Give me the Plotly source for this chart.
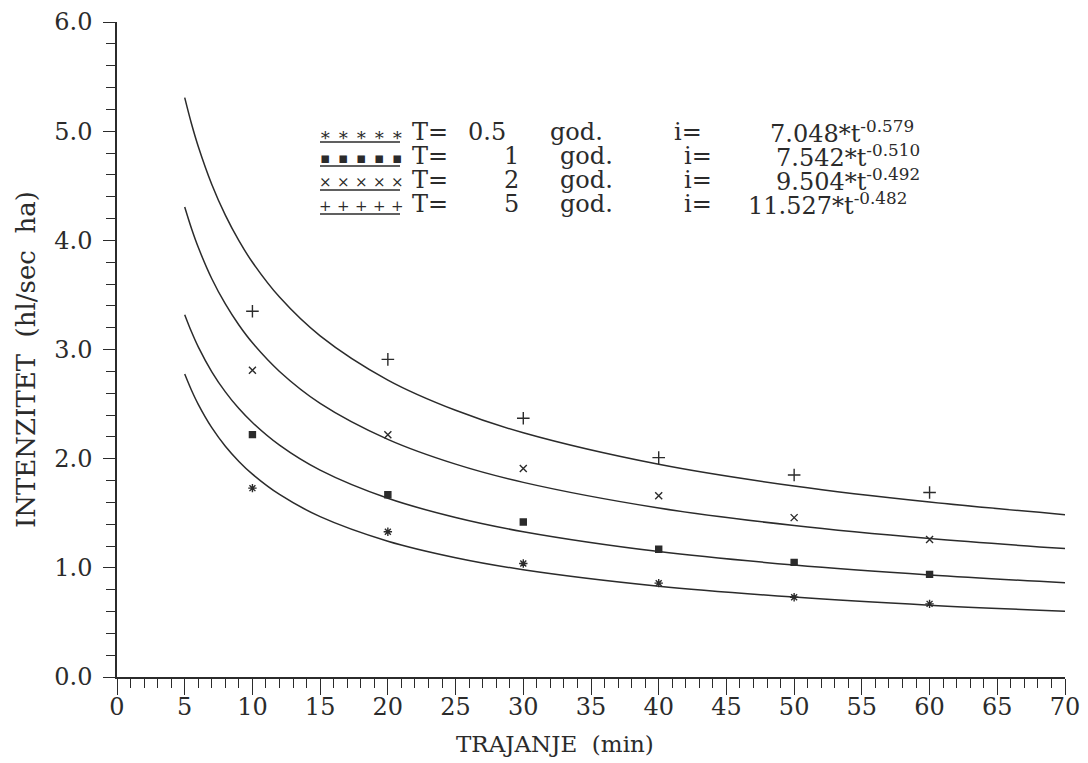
import plotly.graph_objects as go

# ---- data ----
t_obs = [10, 20, 30, 40, 50, 60]
i_T05 = [1.73, 1.33, 1.04, 0.86, 0.73, 0.67]
i_T1 = [2.22, 1.67, 1.42, 1.17, 1.05, 0.94]
i_T2 = [2.81, 2.22, 1.91, 1.66, 1.46, 1.26]
i_T5 = [3.35, 2.91, 2.37, 2.01, 1.85, 1.69]

t_fit = [5, 5.5, 6, 7, 8, 9, 10, 12, 15, 20, 25, 30, 40, 50, 60, 70]
fit_T05 = [2.775, 2.627, 2.498, 2.284, 2.114, 1.975, 1.858, 1.672, 1.469, 1.244, 1.093, 0.983, 0.832, 0.732, 0.658, 0.602]
fit_T1 = [3.319, 3.162, 3.024, 2.796, 2.612, 2.459, 2.331, 2.124, 1.895, 1.637, 1.461, 1.331, 1.149, 1.026, 0.935, 0.864]
fit_T2 = [4.305, 4.108, 3.936, 3.648, 3.417, 3.224, 3.061, 2.799, 2.507, 2.177, 1.950, 1.783, 1.548, 1.387, 1.268, 1.176]
fit_T5 = [5.307, 5.068, 4.860, 4.512, 4.231, 3.997, 3.799, 3.480, 3.125, 2.720, 2.443, 2.237, 1.948, 1.749, 1.602, 1.487]

periods = ["0.5", "1", "2", "5"]
coefs = ["7.048", "7.542", "9.504", "11.527"]
exps = ["-0.579", "-0.510", "-0.492", "-0.482"]
sym_chars = ["\u2217", "\u25aa", "\u00d7", "+"]
sym_sizes = [18, 15, 15, 15]

INK = "#2b2b2b"
FONT = "DejaVu Serif"

W, H = 1088, 763
L, R, T, B = 117, 23, 22, 86
PW, PH = W - L - R, H - T - B


def px(x):
    return (x - L) / PW


def py(y):
    return (H - B - y) / PH


fig = go.Figure()

series = [
    (i_T05, fit_T05, "asterisk-open", 7),
    (i_T1, fit_T1, "square", 6),
    (i_T2, fit_T2, "x-thin-open", 7),
    (i_T5, fit_T5, "cross-thin-open", 9),
]
for obs, fit, sym, size in series:
    fig.add_trace(go.Scatter(x=t_fit, y=fit, mode="lines",
                             line=dict(color=INK, width=1.5, shape="spline"),
                             showlegend=False, hoverinfo="skip"))
    fig.add_trace(go.Scatter(x=t_obs, y=obs, mode="markers",
                             marker=dict(symbol=sym, size=size, color=INK,
                                         line=dict(color=INK, width=1.4)),
                             showlegend=False))

annotations = []
shapes = []
row_y = [132, 156, 180, 204]
god_x = [548, 558, 558, 558]
ieq_x = [672, 682, 682, 682]
val_right = [508, 521, 521, 521]
form_x = [768, 774, 774, 746]
sym_x = [325, 343, 361, 379, 397]
for k in range(4):
    yy = py(row_y[k])
    base = dict(xref="paper", yref="paper", showarrow=False,
                font=dict(family=FONT, size=24, color=INK), yanchor="middle")
    for sx in sym_x:
        annotations.append(dict(base, x=px(sx), y=py(row_y[k] + 2), xanchor="center",
                                text=sym_chars[k],
                                font=dict(family=FONT, size=sym_sizes[k], color=INK)))
    shapes.append(dict(type="line", xref="paper", yref="paper",
                       x0=px(320), x1=px(400), y0=py(row_y[k] + 10), y1=py(row_y[k] + 10),
                       line=dict(color=INK, width=1.4)))
    annotations.append(dict(base, x=px(410), y=yy, xanchor="left", text="T="))
    annotations.append(dict(base, x=px(val_right[k]), y=yy, xanchor="right", text=periods[k]))
    annotations.append(dict(base, x=px(god_x[k]), y=yy, xanchor="left", text="god."))
    annotations.append(dict(base, x=px(ieq_x[k]), y=yy, xanchor="left", text="i="))
    annotations.append(dict(base, x=px(form_x[k]), y=yy, xanchor="left",
                            text=f"{coefs[k]}*t<sup>{exps[k]}</sup>"))

annotations.append(dict(xref="paper", yref="paper", showarrow=False,
                        x=px(555), y=py(744), xanchor="center", yanchor="middle",
                        text="TRAJANJE&nbsp;&nbsp;(min)", font=dict(family=FONT, size=23, color=INK)))
annotations.append(dict(xref="paper", yref="paper", showarrow=False,
                        x=px(26), y=py(360), xanchor="center", yanchor="middle",
                        textangle=-90,
                        text="INTENZITET&nbsp;&nbsp;(hl/sec&nbsp;&nbsp;ha)",
                        font=dict(family=FONT, size=26, color=INK)))

fig.update_layout(
    width=W, height=H,
    margin=dict(l=L, r=R, t=T, b=B, autoexpand=False),
    paper_bgcolor="white", plot_bgcolor="white",
    font=dict(family=FONT, color=INK),
    annotations=annotations, shapes=shapes,
    showlegend=False,
)
fig.update_xaxes(range=[0, 70], dtick=5, tick0=0, showgrid=False, zeroline=False,
                 showline=True, linecolor=INK, linewidth=1.5,
                 ticks="outside", ticklen=16, tickwidth=1.3, tickcolor=INK,
                 ticklabelstandoff=-9,
                 minor=dict(dtick=1, ticks="outside", ticklen=9, tickwidth=1.2, tickcolor=INK),
                 tickfont=dict(family=FONT, size=24, color=INK))
fig.update_yaxes(range=[0, 6], dtick=1, tick0=0, tickformat=".1f", showgrid=False, zeroline=False,
                 showline=True, linecolor=INK, linewidth=1.5,
                 ticks="outside", ticklen=12, tickwidth=1.3, tickcolor=INK,
                 ticklabelstandoff=6,
                 minor=dict(dtick=0.2, ticks="outside", ticklen=9, tickwidth=1.2, tickcolor=INK),
                 tickfont=dict(family=FONT, size=24, color=INK))

fig.write_html("out.html", config={"responsive": False, "displayModeBar": False},
               post_script="document.body.style.margin='0';document.body.style.overflow='hidden';")
